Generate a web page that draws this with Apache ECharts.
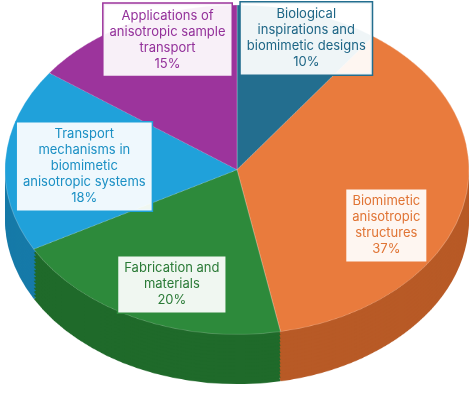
<!DOCTYPE html>
<html><head><meta charset="utf-8">
<script src="https://cdn.jsdelivr.net/npm/echarts@6/dist/echarts.min.js"></script>
<style>
html,body{margin:0;padding:0;background:#fff;overflow:hidden}
#base{position:absolute;left:0;top:0;width:474px;height:570px;transform:scaleY(0.71);transform-origin:0 0}
#over{position:absolute;left:0;top:0;width:474px;height:404px}
</style></head><body>
<div id="base"></div><div id="over"></div>
<script>
const categories = ['Biological\ninspirations and\nbiomimetic designs','Biomimetic\nanisotropic\nstructures','Fabrication and\nmaterials','Transport\nmechanisms in\nbiomimetic\nanisotropic systems','Applications of\nanisotropic sample\ntransport'];
const values = [10, 37, 20, 18, 15];
const colors = ['#236e8f','#e97b3d','#2d8a3b','#20a1da','#9c349c'];
const sideColors = ['#18506a','#b85a26','#1f6a2a','#167aa8','#75227a'];
const textColors = ['#1d6585','#e07434','#2a7a36','#1a8fc4','#93309a'];
const labelShift = [[22,14],[0,22],[0,-24],[0,6],[0,6]];

const base = echarts.init(document.getElementById('base'));
const series = [];
const cy0 = 239, depthPx = 70;
for (let k = 14; k >= 1; k--) {
  series.push({type:'pie', radius:[0,232], center:[237, cy0 + depthPx*k/14], startAngle:90,
    silent:true, label:{show:false}, animation:false,
    data: values.map((v,i)=>({value:v, name:categories[i], itemStyle:{color:sideColors[i]}}))});
}
series.push({type:'pie', radius:[0,232], center:[237, cy0], startAngle:90, silent:true, animation:false,
  label:{show:false}, itemStyle:{borderColor:'rgba(255,255,255,0.25)',borderWidth:1},
  data: values.map((v,i)=>({value:v, name:categories[i], itemStyle:{color:colors[i]}}))});
base.setOption({series});

const over = echarts.init(document.getElementById('over'));
over.setOption({series:[{type:'pie', radius:[0,300], center:[237,170], startAngle:90, animation:false, silent:true,
  avoidLabelOverlap:false, labelLayout:{hideOverlap:false},
  itemStyle:{color:'rgba(0,0,0,0)'}, labelLine:{show:false},
  data: values.map((v,i)=>({value:v, name:categories[i],
    label:{show:true, position:'inside', formatter:'{b}\n{d}%', color:textColors[i],
      fontFamily:'Inter', fontSize:13, lineHeight:16, align:'center', offset:labelShift[i],
      backgroundColor:'rgba(255,255,255,0.93)', borderColor: i===1?'transparent':colors[i], borderWidth:1.5,
      padding:[4,6]}}))
}]});
</script></body></html>
